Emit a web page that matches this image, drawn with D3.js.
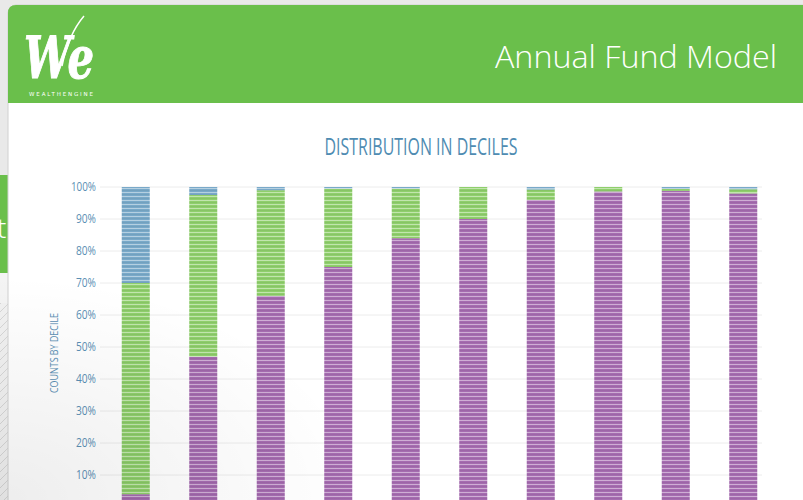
<!DOCTYPE html>
<html>
<head>
<meta charset="utf-8">
<script src="https://cdn.jsdelivr.net/npm/d3@7"></script>
<style>
  body { margin: 0; background: #e9e9e9; }
  svg { display: block; }
</style>
</head>
<body>
<div id="vis"></div>
<script>
// deciles along the x axis, values are share of counts (%) per segment
var deciles = ['1', '2', '3', '4', '5', '6', '7', '8', '9', '10'];
var seriesNames = ['Low', 'Medium', 'High'];
var lowValues = [4, 47, 66, 75, 84, 90, 96, 98.6, 98.8, 98];
var mediumValues = [66, 50.5, 33, 24.5, 15.5, 10, 3.2, 1.4, 0.6, 1.3];
var highValues = [30, 2.5, 1, 0.5, 0.5, 0, 0.8, 0, 0.6, 0.7];
var yTicks = [10, 20, 30, 40, 50, 60, 70, 80, 90, 100];

var width = 803, height = 500;
var colors = { Low: '#a56cb0', Medium: '#8fcf6c', High: '#79a9c9' };
var narrow = '"Open Sans", sans-serif';

var svg = d3.select('#vis').append('svg')
  .attr('width', width)
  .attr('height', height);

var defs = svg.append('defs');

// horizontal stripe patterns for bar texture
seriesNames.forEach(function (name) {
  var p = defs.append('pattern')
    .attr('id', 'stripe' + name)
    .attr('patternUnits', 'userSpaceOnUse')
    .attr('width', 8).attr('height', 4);
  p.append('rect').attr('width', 8).attr('height', 4).attr('fill', colors[name]);
  p.append('rect').attr('y', 0).attr('width', 8).attr('height', 1)
    .attr('fill', '#fff').attr('opacity', 0.45);
  p.append('rect').attr('y', 2).attr('width', 8).attr('height', 1)
    .attr('fill', d3.color(colors[name]).darker(0.25)).attr('opacity', 0.6);
});

var hatch = defs.append('pattern')
  .attr('id', 'hatch')
  .attr('patternUnits', 'userSpaceOnUse')
  .attr('width', 8).attr('height', 8);
hatch.append('rect').attr('width', 8).attr('height', 8).attr('fill', '#f1f1f1');
hatch.append('path').attr('d', 'M-2,2 L2,-2 M0,8 L8,0 M6,10 L10,6')
  .attr('stroke', '#d6d6d6').attr('stroke-width', 1);

// soft shading in the lower left, like the photographed screen
var shade = defs.append('radialGradient')
  .attr('id', 'shade')
  .attr('cx', 0).attr('cy', 1).attr('r', 0.45);
shade.append('stop').attr('offset', 0).attr('stop-color', '#000').attr('stop-opacity', 0.07);
shade.append('stop').attr('offset', 1).attr('stop-color', '#000').attr('stop-opacity', 0);

// page behind the card
svg.append('rect').attr('width', width).attr('height', height).attr('fill', '#e9e9e9');
svg.append('rect').attr('x', 0).attr('y', 175).attr('width', 10).attr('height', 98).attr('fill', '#6abf4b');
svg.append('text').attr('x', -3).attr('y', 238).attr('fill', '#fff')
  .style('font', '300 28px "Open Sans", sans-serif').text('t');
svg.append('rect').attr('x', 0).attr('y', 273).attr('width', 10).attr('height', 30).attr('fill', '#f4f4f4');
svg.append('rect').attr('x', 0).attr('y', 303).attr('width', 10).attr('height', 197).attr('fill', 'url(#hatch)');

// card
var card = svg.append('g');
card.append('rect')
  .attr('x', 8).attr('y', 5).attr('width', 810).attr('height', 520)
  .attr('rx', 8)
  .attr('fill', '#fff')
  .attr('stroke', '#d0d0d0');
card.append('path')
  .attr('d', 'M8,103 L8,13 Q8,5 16,5 L803,5 L803,103 Z')
  .attr('fill', '#6abf4b');

// logo
var logo = card.append('g').attr('fill', '#fff');
logo.append('text')
  .attr('x', 24).attr('y', 78)
  .style('font', 'italic 700 58px "DejaVu Serif", serif')
  .attr('stroke', '#fff').attr('stroke-width', 1)
  .attr('textLength', 70)
  .attr('lengthAdjust', 'spacingAndGlyphs')
  .text('We');
logo.append('path')
  .attr('d', 'M62,66 C66,46 72,30 84,16')
  .attr('fill', 'none').attr('stroke', '#fff').attr('stroke-width', 1.5);
logo.append('text')
  .attr('x', 29).attr('y', 96)
  .style('font', '5.5px "DejaVu Sans", sans-serif')
  .attr('textLength', 64)
  .text('WEALTHENGINE');

card.append('text')
  .attr('x', 777).attr('y', 68)
  .attr('text-anchor', 'end')
  .attr('fill', '#fff')
  .style('font', '300 31px "Open Sans", sans-serif')
  .attr('textLength', 282)
  .attr('lengthAdjust', 'spacingAndGlyphs')
  .text('Annual Fund Model');

// chart
var x = d3.scaleBand()
  .domain(deciles)
  .range([102, 777])
  .paddingInner(0.585)
  .paddingOuter(0.2925);

var y = d3.scaleLinear()
  .domain([0, 100])
  .range([507, 187]);

var chart = svg.append('g');

chart.append('text')
  .attr('x', 421).attr('y', 155)
  .attr('text-anchor', 'middle')
  .attr('fill', '#4f8cb2')
  .style('font', '400 23px ' + narrow)
  .attr('textLength', 193)
  .attr('lengthAdjust', 'spacingAndGlyphs')
  .text('DISTRIBUTION IN DECILES');

chart.append('g').selectAll('line')
  .data(yTicks)
  .enter()
  .append('line')
  .attr('x1', 100).attr('x2', 762)
  .attr('y1', function (d) { return y(d); })
  .attr('y2', function (d) { return y(d); })
  .attr('stroke', '#ececec');

var yAxis = chart.append('g')
  .attr('transform', 'translate(96,0)')
  .call(d3.axisLeft(y).tickValues(yTicks).tickSize(0).tickPadding(0)
    .tickFormat(function (d) { return d + '%'; }));
yAxis.select('.domain').remove();
yAxis.selectAll('text')
  .attr('fill', '#5b8fb4')
  .attr('textLength', function (d) { return d === 100 ? 25 : 20; })
  .attr('lengthAdjust', 'spacingAndGlyphs')
  .style('font', '12px ' + narrow);

chart.append('text')
  .attr('transform', 'translate(58,353) rotate(-90)')
  .attr('text-anchor', 'middle')
  .attr('fill', '#5b8fb4')
  .style('font', '11px ' + narrow)
  .attr('textLength', 80)
  .attr('lengthAdjust', 'spacingAndGlyphs')
  .text('COUNTS BY DECILE');

var rows = deciles.map(function (d, i) {
  return { decile: d, Low: lowValues[i], Medium: mediumValues[i], High: highValues[i] };
});
var stacked = d3.stack().keys(seriesNames)(rows);

chart.append('g').selectAll('g')
  .data(stacked)
  .enter()
  .append('g')
  .attr('fill', function (s) { return 'url(#stripe' + s.key + ')'; })
  .selectAll('rect')
  .data(function (s) { return s; })
  .enter()
  .append('rect')
  .attr('x', function (d) { return x(d.data.decile); })
  .attr('width', x.bandwidth())
  .attr('y', function (d) { return y(d[1]); })
  .attr('height', function (d) { return Math.max(0, y(d[0]) - y(d[1])); });

svg.append('rect')
  .attr('width', width).attr('height', height)
  .attr('fill', 'url(#shade)')
  .attr('pointer-events', 'none');
</script>
</body>
</html>
